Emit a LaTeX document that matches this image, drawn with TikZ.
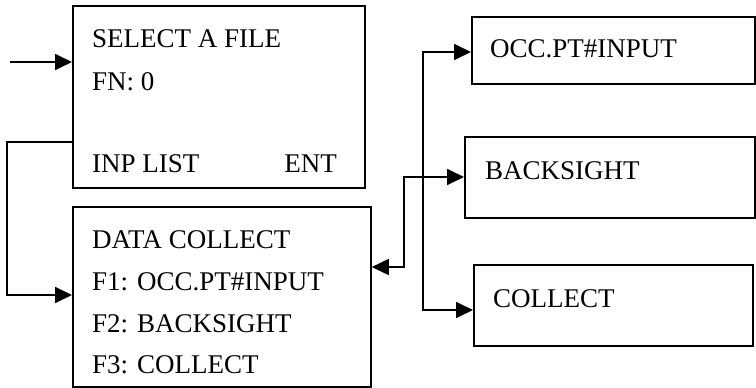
\documentclass[tikz,border=0pt]{standalone}
\usepackage{fontspec}
\setmainfont{Liberation Serif}
\usetikzlibrary{arrows.meta}
\newcommand\screenfont{\fontsize{27pt}{32pt}\selectfont}
\begin{document}
\begin{tikzpicture}[x=1pt,y=-1pt,
  box/.style={draw, line width=1.8pt, rectangle, anchor=north west, inner sep=0pt},
  txt/.style={anchor=base west, inner sep=0pt},
  conn/.style={line width=1.8pt, -{Triangle[length=17pt,width=16pt]}},
  conn2/.style={line width=1.8pt, {Triangle[length=17pt,width=16pt]}-{Triangle[length=17pt,width=16pt]}}]
\useasboundingbox (0,0) rectangle (756,388);

% screen boxes
\node[box, minimum width=292pt, minimum height=182pt] (sel) at (72,5) {};
\node[box, minimum width=298pt, minimum height=180pt] (dc) at (72,206) {};
\node[box, minimum width=283pt, minimum height=67pt] (occ) at (471,16) {};
\node[box, minimum width=290pt, minimum height=81pt] (bs) at (464,136) {};
\node[box, minimum width=279pt, minimum height=81pt] (col) at (473,264) {};

% screen texts
\node[txt] (t1) at (92,47) {\screenfont SELECT A FILE};
\node[txt] (t2) at (92,90) {\screenfont FN: 0};
\node[txt] (t3) at (92,172) {\screenfont INP LIST};
\node[txt, anchor=base east] (t4) at (337,172) {\screenfont ENT};
\node[txt] (t5) at (92,248) {\screenfont DATA COLLECT};
\node[txt] (t6) at (92,290) {\screenfont F1: OCC.PT\#INPUT};
\node[txt] (t7) at (92,332) {\screenfont F2: BACKSIGHT};
\node[txt] (t8) at (92,373) {\screenfont F3: COLLECT};
\node[txt] (t9) at (490,57) {\screenfont OCC.PT\#INPUT};
\node[txt] (t10) at (485,179) {\screenfont BACKSIGHT};
\node[txt] (t11) at (493,307) {\screenfont COLLECT};

% connectors
\coordinate (start) at (10,62);
\coordinate (loop) at (7,142);
\coordinate (busA) at (423,52);
\coordinate (busB) at (404,177);

\draw[conn] (start) -- (start -| sel.west);
\draw[conn] (loop -| sel.west) -- (loop) |- (dc.west |- 0,295);
\draw[conn2] (occ.west |- busA) -- (busA) -- (busA |- 0,310) -- (col.west |- 0,310);
\draw[conn2] (dc.east |- 0,267) -- (busB |- 0,267) -- (busB) -- (bs.west |- busB);
\end{tikzpicture}
\end{document}
